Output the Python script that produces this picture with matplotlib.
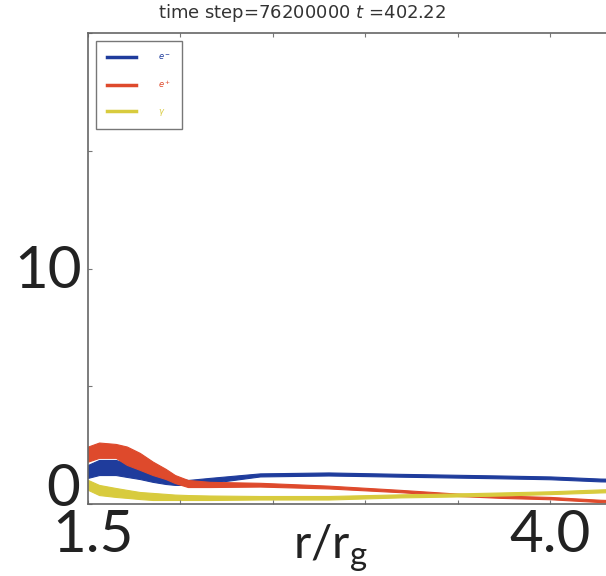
import matplotlib
matplotlib.use("Agg")
import matplotlib.pyplot as plt

plt.rcParams['mathtext.fontset'] = 'dejavusans'

r = [1.50, 1.56, 1.65, 1.71, 1.78, 1.85, 1.92, 1.97, 2.04, 2.16,
     2.43, 2.80, 3.19, 3.50, 3.73, 4.00, 4.27, 4.45]

# upper / lower edge of each noisy band
elec_hi = [1.66, 1.87, 1.87, 1.74, 1.57, 1.36, 1.23, 1.11, 1.02, 1.11,
           1.30, 1.34, 1.28, 1.24, 1.21, 1.17, 1.08, 1.06]
elec_lo = [1.11, 1.23, 1.23, 1.15, 1.06, 0.94, 0.85, 0.81, 0.81, 0.89,
           1.17, 1.21, 1.16, 1.12, 1.09, 1.05, 0.96, 0.94]

posi_hi = [2.44, 2.61, 2.55, 2.44, 2.17, 1.80, 1.49, 1.23, 1.02, 0.94,
           0.90, 0.78, 0.60, 0.44, 0.36, 0.30, 0.18, 0.14]
posi_lo = [1.80, 1.96, 1.96, 1.66, 1.45, 1.23, 1.06, 0.89, 0.72, 0.72,
           0.74, 0.66, 0.50, 0.34, 0.26, 0.20, 0.08, 0.04]

phot_hi = [1.02, 0.81, 0.68, 0.60, 0.51, 0.47, 0.43, 0.40, 0.38, 0.36,
           0.34, 0.34, 0.41, 0.45, 0.49, 0.54, 0.62, 0.66]
phot_lo = [0.60, 0.38, 0.30, 0.26, 0.21, 0.17, 0.17, 0.17, 0.17, 0.17,
           0.19, 0.19, 0.28, 0.32, 0.36, 0.42, 0.49, 0.53]

labels = [r'$e^-$', r'$e^+$', r'$\gamma$']
colors = ['#1f3c9c', '#de4a2c', '#d8cb3e']

fig = plt.figure(figsize=(6.06, 5.76), dpi=100)
# the chart is cropped on the right in the source, so the axes run past the edge
ax = fig.add_axes([88 / 606, 72 / 576, 647.5 / 606, 471 / 576])

bands = [(elec_lo, elec_hi), (posi_lo, posi_hi), (phot_lo, phot_hi)]
for (lo, hi), c, lab in zip(bands, colors, labels):
    ax.fill_between(r, lo, hi, color=c, lw=0.8, edgecolor=c)
    ax.plot([], [], color=c, lw=2.5, label=lab)

ax.set_xlim(1.5, 5.0)
ax.set_ylim(0, 20)
ax.set_xticks([1.5, 2.0, 2.5, 3.0, 3.5, 4.0, 4.5])
ax.set_yticks([0, 5, 10, 15, 20])
ax.tick_params(direction='in', length=3, width=0.8, color='#777777',
               top=True, right=True, labelbottom=False, labelleft=False)
for s in ax.spines.values():
    s.set_color('#666666')
    s.set_linewidth(1.2)

leg = ax.legend(loc='upper left', fontsize=6, handlelength=3.5,
                labelspacing=2.0, borderpad=1.3, handletextpad=2.6,
                borderaxespad=1.0, fancybox=False)
leg.get_frame().set_edgecolor('#555555')
leg.get_frame().set_linewidth(1.0)
for t, c in zip(leg.get_texts(), colors):
    t.set_color(c)

fig.text(302 / 606, 1 - 13 / 576, r'time step=76200000 $t$ =402.22',
         ha='center', va='center', fontsize=13, color='#333333')

big = dict(family='Lato', fontsize=42, color='#222222', va='center', ha='center')
fig.text(48 / 606, 1 - 271 / 576, '10', **big)
fig.text(63 / 606, 1 - 489 / 576, '0', **big)
fig.text(93 / 606, 1 - 536 / 576, '1.5', **big)
fig.text(550 / 606, 1 - 536 / 576, '4.0', **big)
fig.text(330 / 606, 1 - 548 / 576, r'r/r$_\mathregular{g}$',
         family='Lato', fontsize=34, color='#222222', ha='center', va='center')

fig.savefig('out.png', dpi=100)
